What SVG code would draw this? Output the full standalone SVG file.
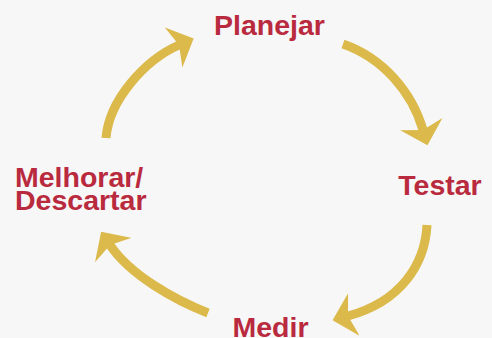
<svg xmlns="http://www.w3.org/2000/svg" width="492" height="338" viewBox="0 0 492 338">
  <style>
    .lbl { font-family: "Liberation Sans", Arial, sans-serif; font-weight: bold; font-size: 28.5px; fill: #b92a3e; }
    .arc { fill: none; stroke: #dbb94a; stroke-width: 9; stroke-linecap: butt; }
  </style>
  <defs>
    <marker id="head" markerUnits="userSpaceOnUse" viewBox="0 0 22 44" markerWidth="22" markerHeight="44" refX="6" refY="22" orient="auto">
      <path d="M0,0 L22,22 L0,44 L6,22 Z" fill="#dbb94a"/>
    </marker>
  </defs>
  <rect width="492" height="338" fill="#f7f7f7"/>
  <g id="connectors">
    <path class="arc" d="M106,138 C109,100 145,60 179,45" marker-end="url(#head)"/>
    <path class="arc" d="M343,44 C383,58 412,92 423,130" marker-end="url(#head)"/>
    <path class="arc" d="M427,225 C425,265 400,302 348,316" marker-end="url(#head)"/>
    <path class="arc" d="M208,313 C175,300 130,275 110,245" marker-end="url(#head)"/>
  </g>
  <g id="planejar"><text class="lbl" x="269.5" y="35" text-anchor="middle">Planejar</text></g>
  <g id="testar"><text class="lbl" x="440" y="195" text-anchor="middle">Testar</text></g>
  <g id="medir"><text class="lbl" x="270.5" y="337" text-anchor="middle">Medir</text></g>
  <g id="melhorar"><text class="lbl" x="15" y="187">Melhorar/</text><text class="lbl" x="15" y="210">Descartar</text></g>
</svg>
